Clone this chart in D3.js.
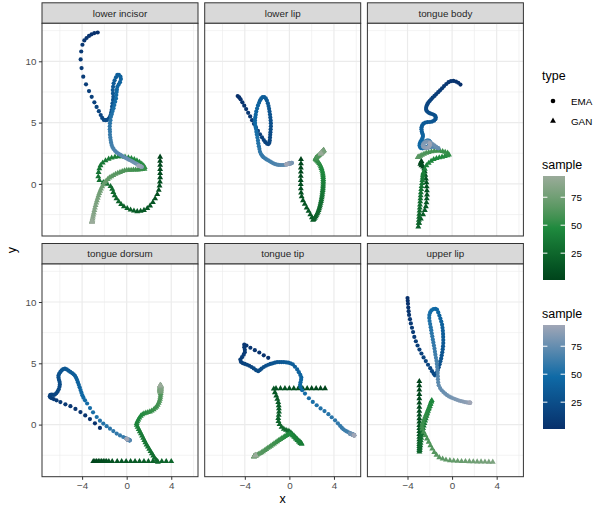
<!doctype html>
<html lang="en">
<head>
<meta charset="UTF-8" />
<title>EMA vs GAN trajectories</title>
<script src="https://d3js.org/d3.v7.min.js"></script>
<style>
  body { margin: 0; background: #fff; }
  svg { display: block; font-family: "Liberation Sans", Arial, Helvetica, sans-serif; font-weight: 400; }
</style>
</head>
<body>
<svg id="chart" width="597" height="505"></svg>
<script>
// facet names, in plotting order
const facets = ["lower incisor", "lower lip", "tongue body", "tongue dorsum", "tongue tip", "upper lip"];
const types = ["EMA", "GAN"];
const xTicks = [-4, 0, 4];
const xMinor = [-6, -2, 2, 6];
const yTicks = [0, 5, 10];
const yMinor = [-2.5, 2.5, 7.5, 12.5];
const sampleTicks = [25, 50, 75];
const sampleRange = [1, 94];

// one [x, y] per sample, sample = index + 1
const lowerIncisorEMA = [[-2.6,12.35],[-2.9,12.3],[-3.15,12.2],[-3.38,12.07],[-3.6,11.9],[-3.8,11.7],[-3.97,11.35],[-4.08,10.8],[-4.13,10.15],[-4.05,9.45],
[-3.9,8.75],[-3.65,8.12],[-3.38,7.57],[-3.14,7.1],[-2.9,6.65],[-2.7,6.28],[-2.5,5.93],[-2.33,5.62],[-2.2,5.38],[-2.05,5.22],
[-1.9,5.2],[-1.75,5.22],[-1.62,5.3],[-1.52,5.45],[-1.44,5.62],[-1.39,5.82],[-1.35,6.02],[-1.31,6.3],[-1.27,6.57],[-1.23,6.85],
[-1.2,7.1],[-1.23,7.38],[-1.25,7.65],[-1.22,7.92],[-1.17,8.2],[-1.08,8.45],[-0.96,8.7],[-0.84,8.9],[-0.7,8.9],[-0.56,8.75],
[-0.52,8.55],[-0.6,8.3],[-0.72,8.1],[-0.84,7.92],[-0.88,7.7],[-0.9,7.5],[-0.93,7.25],[-0.96,6.97],[-1.03,6.7],[-1.11,6.43],
[-1.18,6.18],[-1.26,5.94],[-1.33,5.7],[-1.41,5.48],[-1.46,5.2],[-1.5,4.94],[-1.52,4.7],[-1.52,4.45],[-1.5,4.25],[-1.5,4.0],
[-1.47,3.78],[-1.44,3.58],[-1.4,3.38],[-1.35,3.18],[-1.28,3.0],[-1.18,2.85],[-1.05,2.7],[-0.9,2.57],[-0.75,2.47],[-0.6,2.38],
[-0.45,2.3],[-0.3,2.22],[-0.15,2.15],[0,2.08],[0.15,2.0],[0.3,1.93],[0.45,1.86],[0.6,1.78],[0.75,1.7],[0.9,1.63],
[1.02,1.56],[1.12,1.5],[1.2,1.45],[1.27,1.42],[1.32,1.4],[1.35,1.38],[1.34,1.4],[1.3,1.42],[1.25,1.43],[1.2,1.45],
[1.15,1.45],[1.1,1.46],[1.08,1.46],[1.05,1.47]];

const lowerIncisorGAN = [[3.0,2.2],[3.0,1.87],[3.0,1.53],[3.0,1.2],[3.0,0.86],[3.0,0.52],[2.98,0.18],[2.95,-0.15],[2.88,-0.5],[2.75,-0.85],
[2.55,-1.2],[2.35,-1.5],[2.1,-1.78],[1.85,-2.0],[1.55,-2.15],[1.25,-2.22],[0.95,-2.25],[0.65,-2.2],[0.35,-2.12],[0.05,-2.0],
[-0.25,-1.85],[-0.5,-1.67],[-0.72,-1.45],[-0.92,-1.2],[-1.08,-0.95],[-1.2,-0.68],[-1.3,-0.42],[-1.45,-0.2],[-1.75,-0.02],[-2.1,0.12],
[-2.45,0.3],[-2.55,0.6],[-2.52,0.95],[-2.45,1.25],[-2.35,1.5],[-2.15,1.72],[-1.9,1.9],[-1.62,2.03],[-1.35,2.12],[-1.05,2.2],
[-0.75,2.23],[-0.45,2.23],[-0.15,2.2],[0.15,2.15],[0.42,2.08],[0.68,2.0],[0.92,1.9],[1.15,1.78],[1.35,1.63],[1.52,1.48],
[1.62,1.35],[1.6,1.22],[1.4,1.2],[1.2,1.18],[1.0,1.16],[0.8,1.15],[0.6,1.14],[0.4,1.13],[0.2,1.13],[0.0,1.12],
[-0.2,1.08],[-0.4,1.02],[-0.6,0.95],[-0.8,0.88],[-1.0,0.8],[-1.2,0.7],[-1.38,0.6],[-1.55,0.5],[-1.7,0.38],[-1.85,0.24],
[-1.98,0.1],[-2.1,-0.05],[-2.2,-0.22],[-2.3,-0.4],[-2.38,-0.58],[-2.46,-0.77],[-2.53,-0.96],[-2.6,-1.15],[-2.67,-1.35],[-2.73,-1.55],
[-2.79,-1.75],[-2.85,-1.95],[-2.9,-2.15],[-2.95,-2.35],[-2.99,-2.52],[-3.03,-2.68],[-3.06,-2.82],[-3.08,-2.94],[-3.1,-3.02],[-3.1,-3.06],
[-3.11,-3.08],[-3.11,-3.09],[-3.12,-3.1],[-3.12,-3.1]];

const lowerLipEMA = [[-4.64,7.16],[-4.5,7.05],[-4.38,6.9],[-4.22,6.65],[-4.05,6.38],[-3.88,6.1],[-3.7,5.8],[-3.52,5.5],[-3.35,5.2],[-3.18,4.9],
[-3.0,4.6],[-2.82,4.32],[-2.64,4.05],[-2.46,3.8],[-2.3,3.58],[-2.15,3.4],[-2.0,3.28],[-1.88,3.25],[-1.8,3.35],[-1.76,3.55],
[-1.74,3.78],[-1.72,4.0],[-1.7,4.22],[-1.68,4.45],[-1.66,4.7],[-1.66,4.94],[-1.68,5.18],[-1.71,5.42],[-1.74,5.66],[-1.78,5.9],
[-1.82,6.12],[-1.87,6.35],[-1.93,6.57],[-2.02,6.8],[-2.12,6.98],[-2.25,7.08],[-2.4,7.08],[-2.52,6.98],[-2.63,6.82],[-2.72,6.62],
[-2.82,6.4],[-2.9,6.15],[-2.97,5.9],[-3.02,5.65],[-3.06,5.42],[-3.09,5.2],[-3.08,4.97],[-3.05,4.73],[-3.0,4.5],[-2.96,4.26],
[-2.92,4.02],[-2.87,3.78],[-2.82,3.55],[-2.79,3.31],[-2.74,3.08],[-2.69,2.85],[-2.64,2.62],[-2.55,2.44],[-2.45,2.3],[-2.33,2.18],
[-2.19,2.09],[-2.05,2.0],[-1.9,1.92],[-1.75,1.84],[-1.6,1.76],[-1.44,1.68],[-1.28,1.62],[-1.12,1.58],[-0.96,1.55],[-0.8,1.54],
[-0.65,1.54],[-0.5,1.54],[-0.35,1.56],[-0.2,1.6],[-0.06,1.63],[0.06,1.66],[0.15,1.68],[0.2,1.7],[0.22,1.71],[0.2,1.72],
[0.15,1.7],[0.1,1.69],[0.05,1.68],[0.0,1.67],[-0.05,1.66],[-0.1,1.65],[-0.14,1.64],[-0.18,1.63],[-0.2,1.62],[-0.22,1.62],
[-0.24,1.61],[-0.25,1.61],[-0.26,1.6],[-0.27,1.6]];

const lowerLipGAN = [[1.04,2.0],[1.04,1.66],[1.03,1.32],[1.03,0.98],[1.02,0.64],[1.02,0.3],[1.02,-0.04],[1.03,-0.38],[1.05,-0.72],[1.1,-1.04],
[1.22,-1.35],[1.38,-1.65],[1.55,-1.95],[1.72,-2.22],[1.88,-2.5],[2.02,-2.75],[2.12,-2.94],[2.2,-2.88],[2.28,-2.78],[2.36,-2.67],
[2.43,-2.55],[2.5,-2.42],[2.56,-2.29],[2.62,-2.15],[2.67,-2.01],[2.72,-1.87],[2.76,-1.72],[2.8,-1.57],[2.84,-1.42],[2.87,-1.27],
[2.9,-1.12],[2.93,-0.97],[2.95,-0.82],[2.97,-0.67],[2.99,-0.52],[3.01,-0.37],[3.02,-0.22],[3.03,-0.07],[3.04,0.08],[3.04,0.23],
[3.04,0.38],[3.03,0.53],[3.02,0.68],[3.0,0.83],[2.97,0.98],[2.93,1.13],[2.88,1.28],[2.82,1.42],[2.75,1.55],[2.67,1.67],
[2.58,1.78],[2.5,1.87],[2.43,1.94],[2.38,1.99],[2.35,2.03],[2.35,2.07],[2.38,2.11],[2.42,2.15],[2.47,2.19],[2.52,2.23],
[2.57,2.27],[2.62,2.31],[2.67,2.35],[2.72,2.39],[2.77,2.43],[2.82,2.47],[2.87,2.51],[2.91,2.55],[2.95,2.59],[2.99,2.63],
[3.02,2.67],[3.05,2.7],[3.07,2.72],[3.08,2.74],[3.08,2.75],[3.07,2.74],[3.05,2.72],[3.02,2.69],[2.99,2.66],[2.96,2.63],
[2.93,2.6],[2.9,2.57],[2.88,2.55],[2.86,2.53],[2.85,2.52],[2.84,2.51],[2.84,2.5],[2.83,2.5],[2.83,2.49],[2.82,2.49],
[2.82,2.48],[2.82,2.48],[2.81,2.48],[2.81,2.47]];

const tongueBodyEMA = [[0.75,8.1],[0.55,8.25],[0.35,8.35],[0.12,8.4],[-0.1,8.38],[-0.32,8.3],[-0.52,8.15],[-0.72,7.98],[-0.9,7.8],[-1.08,7.63],
[-1.25,7.48],[-1.42,7.33],[-1.58,7.18],[-1.74,7.04],[-1.88,6.9],[-2.0,6.78],[-2.12,6.65],[-2.22,6.5],[-2.29,6.35],[-2.33,6.2],
[-2.33,6.05],[-2.25,5.92],[-2.12,5.82],[-1.97,5.75],[-1.8,5.7],[-1.64,5.64],[-1.52,5.55],[-1.46,5.42],[-1.5,5.28],[-1.62,5.16],
[-1.8,5.08],[-2.0,5.05],[-2.2,5.04],[-2.4,5.0],[-2.57,4.92],[-2.68,4.78],[-2.74,4.62],[-2.75,4.45],[-2.72,4.28],[-2.67,4.12],
[-2.62,3.98],[-2.62,3.84],[-2.68,3.7],[-2.76,3.56],[-2.84,3.42],[-2.9,3.28],[-2.92,3.14],[-2.88,3.0],[-2.8,2.92],[-2.65,2.9],
[-2.5,2.92],[-2.35,2.97],[-2.2,3.05],[-2.08,3.15],[-2.0,3.28],[-1.98,3.42],[-2.05,3.52],[-2.18,3.55],[-2.32,3.52],[-2.45,3.45],
[-2.55,3.35],[-2.6,3.22],[-2.58,3.1],[-2.5,3.0],[-2.38,2.95],[-2.25,2.95],[-2.1,2.97],[-1.95,3.0],[-1.8,3.02],[-1.65,3.02],
[-1.5,3.0],[-1.38,2.96],[-1.28,2.92],[-1.22,2.9],[-1.3,2.95],[-1.45,3.05],[-1.6,3.15],[-1.75,3.25],[-1.9,3.35],[-2.05,3.42],
[-2.2,3.45],[-2.35,3.42],[-2.48,3.35],[-2.58,3.25],[-2.62,3.15],[-2.6,3.05],[-2.52,2.98],[-2.4,2.95],[-2.28,2.95],[-2.15,2.98],
[-2.05,3.05],[-2.0,3.15],[-2.0,3.25],[-2.02,3.32]];

const tongueBodyGAN = [[-2.75,1.85],[-2.8,1.75],[-2.85,1.62],[-2.75,1.5],[-2.6,1.4],[-2.5,1.25],[-2.45,1.0],[-2.4,0.72],[-2.35,0.42],[-2.3,0.1],
[-2.28,-0.22],[-2.26,-0.55],[-2.25,-0.88],[-2.27,-1.2],[-2.3,-1.52],[-2.35,-1.84],[-2.45,-2.15],[-2.6,-2.5],[-2.8,-2.85],[-2.95,-3.2],
[-3.03,-3.49],[-3.0,-3.2],[-2.98,-2.95],[-2.96,-2.7],[-2.94,-2.45],[-2.92,-2.2],[-2.9,-1.95],[-2.88,-1.7],[-2.86,-1.45],[-2.84,-1.2],
[-2.82,-0.95],[-2.8,-0.7],[-2.77,-0.45],[-2.74,-0.2],[-2.7,0.05],[-2.67,0.3],[-2.64,0.5],[-2.62,0.68],[-2.6,0.82],[-2.56,0.95],
[-2.45,1.22],[-2.3,1.5],[-2.1,1.7],[-1.88,1.86],[-1.65,2.0],[-1.4,2.08],[-1.15,2.15],[-0.9,2.2],[-0.65,2.26],[-0.42,2.32],
[-0.28,2.38],[-0.4,2.52],[-0.62,2.6],[-0.85,2.65],[-1.1,2.69],[-1.35,2.7],[-1.6,2.68],[-1.85,2.64],[-2.1,2.58],[-2.32,2.52],
[-2.52,2.44],[-2.7,2.36],[-2.85,2.28],[-2.97,2.22],[-3.05,2.18],[-3.08,2.16]];

const tongueDorsumEMA = [[-2.4,-0.27],[-2.85,0.1],[-3.3,0.45],[-3.72,0.75],[-4.15,1.02],[-4.6,1.28],[-5.05,1.5],[-5.5,1.65],[-5.95,1.84],[-6.3,1.98],
[-6.55,2.08],[-6.72,2.15],[-6.85,2.22],[-6.9,2.32],[-6.85,2.42],[-6.72,2.45],[-6.58,2.42],[-6.45,2.45],[-6.32,2.55],[-6.2,2.7],
[-6.1,2.88],[-6.03,3.08],[-6.0,3.28],[-6.02,3.48],[-6.08,3.66],[-6.12,3.84],[-6.12,4.0],[-6.05,4.16],[-5.95,4.3],[-5.84,4.42],
[-5.7,4.52],[-5.54,4.56],[-5.38,4.5],[-5.22,4.4],[-5.06,4.3],[-4.9,4.2],[-4.76,4.1],[-4.64,3.98],[-4.54,3.82],[-4.46,3.65],
[-4.38,3.46],[-4.3,3.25],[-4.22,3.04],[-4.14,2.82],[-4.06,2.6],[-3.98,2.39],[-3.88,2.2],[-3.74,1.98],[-3.55,1.72],[-3.29,1.35],
[-3.02,1.0],[-2.69,0.62],[-2.4,0.32],[-2.1,0.08],[-1.8,-0.13],[-1.5,-0.33],[-1.2,-0.53],[-0.9,-0.73],[-0.6,-0.88],[-0.31,-1.01],
[-0.1,-1.1],[0.05,-1.16],[0.14,-1.2],[0.2,-1.24],[0.24,-1.26],[0.26,-1.28],[0.27,-1.29],[0.26,-1.28],[0.24,-1.27],[0.21,-1.26],
[0.18,-1.25],[0.15,-1.24],[0.12,-1.23],[0.1,-1.22],[0.08,-1.22],[0.07,-1.21],[0.06,-1.21],[0.05,-1.2],[0.05,-1.2],[0.04,-1.2],
[0.04,-1.19],[0.03,-1.19],[0.03,-1.19],[0.02,-1.18],[0.02,-1.18],[0.02,-1.18],[0.01,-1.18],[0.01,-1.17],[0.01,-1.17],[0.0,-1.17],
[0.0,-1.17],[0.0,-1.16],[0.0,-1.16],[0.0,-1.16]];

const tongueDorsumGAN = [[-3.0,-3.0],[-2.85,-3.0],[-2.7,-3.0],[-2.55,-3.0],[-2.4,-3.0],[-2.25,-3.0],[-2.1,-3.0],[-1.95,-3.0],[-1.8,-3.0],[-1.6,-3.0],
[-1.3,-3.0],[-0.85,-3.0],[-0.45,-3.0],[-0.05,-3.0],[0.35,-3.0],[0.75,-3.0],[1.15,-3.0],[1.55,-3.0],[1.95,-3.0],[2.35,-3.0],
[2.75,-3.0],[3.15,-3.0],[3.55,-3.0],[4.0,-3.0],[2.8,-3.05],[2.65,-2.9],[2.5,-2.72],[2.38,-2.54],[2.26,-2.36],[2.14,-2.18],
[2.02,-2.0],[1.9,-1.82],[1.78,-1.64],[1.68,-1.46],[1.58,-1.28],[1.48,-1.1],[1.38,-0.92],[1.28,-0.74],[1.18,-0.56],[1.08,-0.38],
[0.98,-0.2],[0.9,-0.04],[0.9,0.1],[0.96,0.25],[1.04,0.4],[1.14,0.55],[1.26,0.7],[1.4,0.82],[1.55,0.9],[1.72,0.95],
[1.9,1.0],[2.08,1.05],[2.25,1.12],[2.42,1.22],[2.56,1.34],[2.68,1.46],[2.78,1.6],[2.87,1.76],[2.94,1.92],[2.99,2.08],
[3.02,2.24],[3.04,2.4],[3.05,2.56],[3.05,2.72],[3.05,2.88],[3.05,3.02],[3.05,3.14],[3.05,3.22],[3.04,3.18],[3.02,3.12],
[3.0,3.05],[2.98,2.98],[2.97,2.9],[2.97,2.82],[2.98,2.75],[3.0,2.7],[3.02,2.68],[3.04,2.7],[3.06,2.75],[3.07,2.82],
[3.08,2.9],[3.08,2.98],[3.07,3.05],[3.06,3.1],[3.05,3.14],[3.04,3.16],[3.03,3.17],[3.03,3.18],[3.02,3.18],[3.02,3.19],
[3.02,3.19],[3.01,3.19],[3.01,3.2],[3.01,3.2]];

const tongueTipEMA = [[-1.9,5.45],[-2.3,5.65],[-2.7,5.88],[-3.1,6.07],[-3.5,6.27],[-3.85,6.45],[-4.05,6.52],[-4.05,6.3],[-4.0,6.1],[-4.0,5.9],
[-4.1,5.7],[-4.25,5.5],[-4.4,5.3],[-4.35,5.12],[-4.2,5.02],[-4.0,4.95],[-3.8,4.88],[-3.6,4.8],[-3.4,4.7],[-3.2,4.58],
[-3.0,4.45],[-2.8,4.35],[-2.65,4.45],[-2.5,4.56],[-2.3,4.7],[-2.1,4.8],[-1.9,4.88],[-1.7,4.95],[-1.5,5.0],[-1.3,5.05],
[-1.1,5.1],[-0.9,5.1],[-0.7,5.1],[-0.5,5.1],[-0.3,5.08],[-0.1,5.05],[0.1,5.0],[0.3,4.92],[0.5,4.72],[0.7,4.5],
[0.85,4.28],[0.98,4.05],[1.07,3.85],[1.05,3.65],[1.0,3.45],[0.96,3.25],[1.0,3.05],[1.15,2.8],[1.4,2.53],[1.75,2.15],
[2.1,1.85],[2.45,1.58],[2.8,1.32],[3.15,1.1],[3.5,0.85],[3.8,0.6],[4.1,0.35],[4.35,0.1],[4.55,-0.1],[4.7,-0.25],
[4.85,-0.38],[5.0,-0.48],[5.15,-0.56],[5.3,-0.63],[5.45,-0.7],[5.6,-0.76],[5.72,-0.81],[5.8,-0.84],[5.82,-0.86],[5.78,-0.84],
[5.72,-0.82],[5.65,-0.8],[5.58,-0.78],[5.5,-0.76],[5.45,-0.74],[5.42,-0.73],[5.45,-0.74],[5.5,-0.76],[5.56,-0.78],[5.62,-0.8],
[5.68,-0.82],[5.72,-0.84],[5.75,-0.85],[5.77,-0.86],[5.78,-0.86],[5.79,-0.87],[5.8,-0.87],[5.8,-0.87],[5.81,-0.88],[5.81,-0.88],
[5.81,-0.88],[5.82,-0.88],[5.82,-0.89],[5.82,-0.89]];

const tongueTipGAN = [[3.2,2.95],[2.8,2.95],[2.4,2.95],[2.0,2.95],[1.6,2.95],[1.2,2.95],[0.8,2.95],[0.4,2.95],[0.0,2.95],[-0.4,2.95],
[-0.8,2.95],[-1.2,2.95],[-1.4,2.92],[-1.3,2.62],[-1.18,2.35],[-1.08,2.08],[-1.0,1.82],[-0.96,1.56],[-0.94,1.3],[-0.93,1.04],
[-0.96,0.78],[-1.0,0.52],[-0.98,0.26],[-0.88,0.02],[-0.7,-0.2],[-0.5,-0.36],[-0.3,-0.45],[-0.12,-0.52],[0.02,-0.58],[0.15,-0.68],
[0.28,-0.8],[0.42,-0.92],[0.56,-1.05],[0.7,-1.18],[0.84,-1.3],[0.96,-1.42],[1.08,-1.52],[1.1,-1.58],[0.98,-1.52],[0.85,-1.4],
[0.72,-1.28],[0.58,-1.15],[0.44,-1.02],[0.3,-0.9],[0.16,-0.8],[0.02,-0.78],[-0.12,-0.82],[-0.26,-0.88],[-0.4,-0.96],[-0.54,-1.04],
[-0.68,-1.12],[-0.82,-1.2],[-0.96,-1.29],[-1.1,-1.38],[-1.24,-1.47],[-1.38,-1.56],[-1.52,-1.65],[-1.66,-1.74],[-1.8,-1.83],[-1.94,-1.92],
[-2.08,-2.01],[-2.22,-2.1],[-2.36,-2.19],[-2.5,-2.27],[-2.63,-2.34],[-2.76,-2.41],[-2.88,-2.47],[-2.98,-2.52],[-3.06,-2.55],[-3.12,-2.57],
[-3.17,-2.6],[-3.18,-2.6],[-3.18,-2.61],[-3.17,-2.6],[-3.15,-2.59],[-3.12,-2.57],[-3.1,-2.56],[-3.08,-2.55],[-3.07,-2.54],[-3.06,-2.54],
[-3.06,-2.53],[-3.06,-2.53],[-3.05,-2.53],[-3.05,-2.52],[-3.05,-2.52],[-3.05,-2.52],[-3.04,-2.52],[-3.04,-2.51],[-3.04,-2.51],[-3.04,-2.51],
[-3.04,-2.51],[-3.03,-2.51],[-3.03,-2.5],[-3.03,-2.5]];

const upperLipEMA = [[-4.0,10.32],[-3.98,10.1],[-3.96,9.85],[-3.93,9.55],[-3.9,9.25],[-3.86,8.95],[-3.78,8.6],[-3.7,8.25],[-3.6,7.9],[-3.5,7.55],
[-3.39,7.15],[-3.25,6.8],[-3.1,6.45],[-2.93,6.12],[-2.75,5.8],[-2.56,5.48],[-2.36,5.18],[-2.16,4.88],[-1.96,4.6],[-1.8,4.36],
[-1.66,4.16],[-1.54,4.02],[-1.44,4.08],[-1.36,4.25],[-1.28,4.45],[-1.2,4.68],[-1.12,4.92],[-1.05,5.16],[-0.98,5.4],[-0.93,5.65],
[-0.88,5.9],[-0.84,6.15],[-0.81,6.4],[-0.79,6.65],[-0.79,6.9],[-0.8,7.15],[-0.81,7.4],[-0.83,7.65],[-0.86,7.9],[-0.9,8.15],
[-0.97,8.4],[-1.05,8.65],[-1.14,8.9],[-1.24,9.15],[-1.36,9.38],[-1.5,9.45],[-1.68,9.42],[-1.85,9.32],[-1.97,9.15],[-2.04,8.93],
[-2.05,8.7],[-2.02,8.45],[-1.97,8.2],[-1.92,7.95],[-1.87,7.7],[-1.83,7.45],[-1.78,7.2],[-1.73,6.95],[-1.68,6.7],[-1.63,6.45],
[-1.58,6.2],[-1.54,5.95],[-1.5,5.7],[-1.45,5.45],[-1.4,5.2],[-1.37,4.95],[-1.34,4.7],[-1.31,4.45],[-1.29,4.2],[-1.28,3.95],
[-1.27,3.7],[-1.25,3.45],[-1.2,3.2],[-1.08,2.98],[-0.93,2.8],[-0.78,2.65],[-0.62,2.52],[-0.45,2.4],[-0.28,2.3],[-0.1,2.22],
[0.08,2.15],[0.26,2.08],[0.44,2.02],[0.62,1.96],[0.8,1.92],[0.98,1.88],[1.15,1.84],[1.3,1.82],[1.43,1.8],[1.53,1.79],
[1.6,1.78],[1.63,1.78],[1.62,1.79],[1.6,1.8]];

const upperLipGAN = [[-2.94,3.53],[-2.94,3.18],[-2.94,2.83],[-2.94,2.48],[-2.94,2.13],[-2.94,1.78],[-2.94,1.43],[-2.94,1.1],[-2.94,0.8],[-2.94,0.5],
[-2.94,0.22],[-2.94,-0.05],[-2.94,-0.3],[-2.94,-0.55],[-2.94,-0.8],[-2.94,-1.02],[-2.94,-1.22],[-2.94,-1.42],[-2.94,-1.6],[-2.94,-1.78],
[-2.94,-1.95],[-2.94,-2.1],[-2.93,-2.22],[-2.9,-2.1],[-2.88,-1.9],[-2.85,-1.7],[-2.83,-1.5],[-2.8,-1.3],[-2.77,-1.1],[-2.74,-0.9],
[-2.7,-0.7],[-2.65,-0.5],[-2.6,-0.3],[-2.54,-0.1],[-2.48,0.1],[-2.42,0.3],[-2.36,0.5],[-2.3,0.7],[-2.23,0.9],[-2.16,1.1],
[-2.08,1.3],[-2.0,1.5],[-1.93,1.7],[-1.86,1.88],[-1.82,1.98],[-1.88,1.85],[-1.96,1.65],[-2.05,1.45],[-2.14,1.25],[-2.23,1.05],
[-2.32,0.85],[-2.41,0.65],[-2.5,0.45],[-2.58,0.25],[-2.65,0.05],[-2.7,-0.15],[-2.68,-0.35],[-2.55,-0.6],[-2.4,-0.88],[-2.25,-1.15],
[-2.1,-1.42],[-1.95,-1.7],[-1.78,-1.98],[-1.6,-2.25],[-1.4,-2.48],[-1.15,-2.68],[-0.85,-2.8],[-0.55,-2.88],[-0.2,-2.93],[0.15,-2.96],
[0.5,-2.98],[0.85,-3.0],[1.2,-3.0],[1.55,-3.01],[1.9,-3.02],[2.25,-3.03],[2.6,-3.03],[2.95,-3.04],[3.3,-3.05],[3.65,-3.05]];

// lookup built from the arrays above
const trajectories = {
  "lower incisor": { EMA: lowerIncisorEMA, GAN: lowerIncisorGAN },
  "lower lip": { EMA: lowerLipEMA, GAN: lowerLipGAN },
  "tongue body": { EMA: tongueBodyEMA, GAN: tongueBodyGAN },
  "tongue dorsum": { EMA: tongueDorsumEMA, GAN: tongueDorsumGAN },
  "tongue tip": { EMA: tongueTipEMA, GAN: tongueTipGAN },
  "upper lip": { EMA: upperLipEMA, GAN: upperLipGAN }
};

const svg = d3.select("#chart");

// layout of the 2 x 3 facet grid
const panelW = 156;
const panelH = 212.7;
const stripH = 20.5;
const colLeft = [42, 204.7, 367.4];
const rowTop = [23.3, 264];

const x = d3.scaleLinear().domain([-7.6, 6.4]).range([0, panelW]);
const y = d3.scaleLinear().domain([-4.25, 13.1]).range([panelH, 0]);

const greenScale = d3.scaleLinear()
  .domain([sampleRange[0], (sampleRange[0] + sampleRange[1]) / 2, sampleRange[1]])
  .range(["#00441b", "#1f8a3e", "#9aab9a"])
  .interpolate(d3.interpolateLab);
const blueScale = d3.scaleLinear()
  .domain([sampleRange[0], (sampleRange[0] + sampleRange[1]) / 2, sampleRange[1]])
  .range(["#08306b", "#0f6aa6", "#a0a6b6"])
  .interpolate(d3.interpolateRgb);

const fmt = d => (d < 0 ? "\u2212" + Math.abs(d) : String(d));
const triangle = d3.symbol().type(d3.symbolTriangle).size(15);

facets.forEach((name, i) => {
  const col = i % 3;
  const row = Math.floor(i / 3);
  const g = svg.append("g").attr("transform", `translate(${colLeft[col]},${rowTop[row]})`);

  // strip
  g.append("rect")
    .attr("x", 0).attr("y", -stripH)
    .attr("width", panelW).attr("height", stripH)
    .attr("fill", "#d9d9d9").attr("stroke", "#333").attr("stroke-width", 1);
  g.append("text")
    .attr("x", panelW / 2).attr("y", -stripH / 2 + 3.5)
    .attr("text-anchor", "middle")
    .attr("font-size", 9.8).attr("fill", "#262626")
    .text(name);

  // panel background + grid
  g.append("rect").attr("width", panelW).attr("height", panelH).attr("fill", "#fff");
  g.selectAll(".gxm").data(xMinor).join("line")
    .attr("x1", d => x(d)).attr("x2", d => x(d)).attr("y1", 0).attr("y2", panelH)
    .attr("stroke", "#ebebeb").attr("stroke-width", 0.6);
  g.selectAll(".gym").data(yMinor).join("line")
    .attr("y1", d => y(d)).attr("y2", d => y(d)).attr("x1", 0).attr("x2", panelW)
    .attr("stroke", "#ebebeb").attr("stroke-width", 0.6);
  g.selectAll(".gx").data(xTicks).join("line")
    .attr("x1", d => x(d)).attr("x2", d => x(d)).attr("y1", 0).attr("y2", panelH)
    .attr("stroke", "#ebebeb").attr("stroke-width", 1.2);
  g.selectAll(".gy").data(yTicks).join("line")
    .attr("y1", d => y(d)).attr("y2", d => y(d)).attr("x1", 0).attr("x2", panelW)
    .attr("stroke", "#ebebeb").attr("stroke-width", 1.2);

  // GAN triangles first, EMA circles on top
  const gan = trajectories[name].GAN;
  g.selectAll(".gan").data(gan).join("path")
    .attr("d", triangle)
    .attr("transform", d => `translate(${x(d[0])},${y(d[1])})`)
    .attr("fill", (d, k) => greenScale(k + 1));

  const ema = trajectories[name].EMA;
  g.selectAll(".ema").data(ema).join("circle")
    .attr("cx", d => x(d[0])).attr("cy", d => y(d[1])).attr("r", 2.1)
    .attr("fill", (d, k) => blueScale(k + 1));

  // border
  g.append("rect").attr("width", panelW).attr("height", panelH)
    .attr("fill", "none").attr("stroke", "#333").attr("stroke-width", 1);

  // axes: y on first column, x on bottom row
  if (col === 0) {
    const ax = g.append("g").call(d3.axisLeft(y).tickValues(yTicks).tickSize(3.1).tickPadding(2.5).tickFormat(fmt));
    ax.select(".domain").remove();
    ax.selectAll("line").attr("stroke", "#333");
    ax.selectAll("text").attr("fill", "#4d4d4d").attr("font-size", 9.8).attr("font-family", null);
  }
  if (row === 1) {
    const ax = g.append("g").attr("transform", `translate(0,${panelH})`)
      .call(d3.axisBottom(x).tickValues(xTicks).tickSize(3.1).tickPadding(2.5).tickFormat(fmt));
    ax.select(".domain").remove();
    ax.selectAll("line").attr("stroke", "#333");
    ax.selectAll("text").attr("fill", "#4d4d4d").attr("font-size", 9.8).attr("font-family", null);
  }
});

// axis titles
svg.append("text").attr("x", (colLeft[0] + colLeft[2] + panelW) / 2).attr("y", 503)
  .attr("text-anchor", "middle").attr("font-size", 12.5).text("x");
svg.append("text")
  .attr("transform", `translate(16,${(rowTop[0] + rowTop[1] + panelH) / 2}) rotate(-90)`)
  .attr("text-anchor", "middle").attr("font-size", 12.5).text("y");

// legend: type
const lg = svg.append("g");
lg.append("text").attr("x", 542).attr("y", 80).attr("font-size", 12.5).text("type");
types.forEach((t, i) => {
  const cy = 101 + i * 20;
  if (t === "EMA") {
    lg.append("circle").attr("cx", 553).attr("cy", cy).attr("r", 2.3).attr("fill", "#000");
  } else {
    lg.append("path").attr("d", triangle).attr("transform", `translate(553,${cy})`).attr("fill", "#000");
  }
  lg.append("text").attr("x", 571).attr("y", cy + 3.5).attr("font-size", 9.8).text(t);
});

// colour bars
function colorBar(scale, top, id) {
  const barX = 543, barW = 22, barH = 104;
  const s = d3.scaleLinear().domain(sampleRange).range([top + barH, top]);
  const grad = svg.append("defs").append("linearGradient")
    .attr("id", id).attr("x1", 0).attr("y1", 1).attr("x2", 0).attr("y2", 0);
  d3.range(0, 11).forEach(k => {
    const v = sampleRange[0] + (sampleRange[1] - sampleRange[0]) * k / 10;
    grad.append("stop").attr("offset", k / 10).attr("stop-color", scale(v));
  });
  svg.append("text").attr("x", 542).attr("y", top - 7).attr("font-size", 12.5).text("sample");
  svg.append("rect").attr("x", barX).attr("y", top).attr("width", barW).attr("height", barH)
    .attr("fill", `url(#${id})`);
  sampleTicks.forEach(t => {
    svg.append("line").attr("x1", barX).attr("x2", barX + 4.4).attr("y1", s(t)).attr("y2", s(t))
      .attr("stroke", "#fff").attr("stroke-width", 1);
    svg.append("line").attr("x1", barX + barW - 4.4).attr("x2", barX + barW).attr("y1", s(t)).attr("y2", s(t))
      .attr("stroke", "#fff").attr("stroke-width", 1);
    svg.append("text").attr("x", 571).attr("y", s(t) + 3.5).attr("font-size", 9.8).attr("fill", "#000").text(t);
  });
}
colorBar(greenScale, 176, "gradGreen");
colorBar(blueScale, 325, "gradBlue");
</script>
</body>
</html>
